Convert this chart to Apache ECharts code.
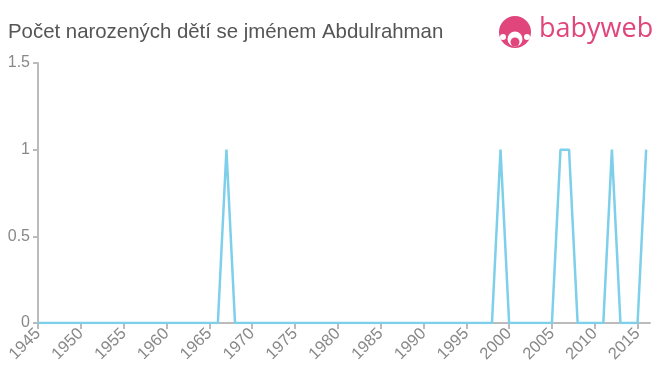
<!DOCTYPE html>
<html><head><meta charset="utf-8">
<script src="https://cdn.jsdelivr.net/npm/echarts@6/dist/echarts.min.js"></script>
<style>html,body{margin:0;padding:0;background:#fff}#c{width:660px;height:375px}</style>
</head><body><div id="c"></div>
<script>
const years = [];
for (let y = 1945; y <= 2016; y++) years.push(y);
const birthYears = [1967, 1999, 2006, 2007, 2012, 2016];
const birthCounts = [1, 1, 1, 1, 1, 1];
const xTickLabels = [1945,1950,1955,1960,1965,1970,1975,1980,1985,1990,1995,2000,2005,2010,2015];
const yTickLabels = [0, 0.5, 1, 1.5];
const counts = years.map(y => { const i = birthYears.indexOf(y); return i >= 0 ? birthCounts[i] : 0; });
const seriesData = years.map((y, i) => [y, counts[i]]);

const chart = echarts.init(document.getElementById('c'));
chart.setOption({
  animation: false,
  title: { text: 'Počet narozených dětí se jménem Abdulrahman', left: 3, top: 17,
    textStyle: { fontFamily: 'Liberation Sans, Arial', fontSize: 20.4, fontWeight: 'normal', color: '#555' } },
  grid: { left: 38, right: 10, top: 63, bottom: 52 },
  xAxis: { type: 'value', min: 1945, max: 2016.45,
    axisLine: { lineStyle: { color: '#bbb', width: 2 } },
    axisTick: { customValues: xTickLabels, length: 6, lineStyle: { color: '#bbb', width: 2 } },
    axisLabel: { customValues: xTickLabels, rotate: 45, color: '#888', fontSize: 16.5, fontFamily: 'Liberation Sans, Arial', margin: 8, formatter: v => String(v) },
    splitLine: { show: false } },
  yAxis: { type: 'value', min: 0, max: 1.5, interval: 0.5,
    axisLine: { show: true, lineStyle: { color: '#bbb', width: 2 } },
    axisTick: { show: true, length: 5, lineStyle: { color: '#bbb', width: 2 } },
    axisLabel: { customValues: yTickLabels, color: '#888', fontSize: 16, fontFamily: 'Liberation Sans, Arial', margin: 8 },
    splitLine: { show: false } },
  series: [{ type: 'line', data: seriesData, showSymbol: false, symbol: 'none',
    lineStyle: { color: '#7ecfea', width: 2.5 } }],
  graphic: [
    { type: 'circle', shape: { cx: 515, cy: 32, r: 16 }, style: { fill: '#e0457b' } },
    { type: 'circle', shape: { cx: 515, cy: 39, r: 7.5 }, style: { fill: '#fff' } },
    { type: 'circle', shape: { cx: 515, cy: 42, r: 4.5 }, style: { fill: '#e0457b' } },
    { type: 'circle', shape: { cx: 503, cy: 37, r: 3 }, style: { fill: '#fff' } },
    { type: 'circle', shape: { cx: 527, cy: 37, r: 3 }, style: { fill: '#fff' } },
    { type: 'text', left: 539, top: 16, style: { text: 'babyweb', fill: '#e0457b', font: '27px "Open Sans", Arial' } }
  ]
});
</script></body></html>
